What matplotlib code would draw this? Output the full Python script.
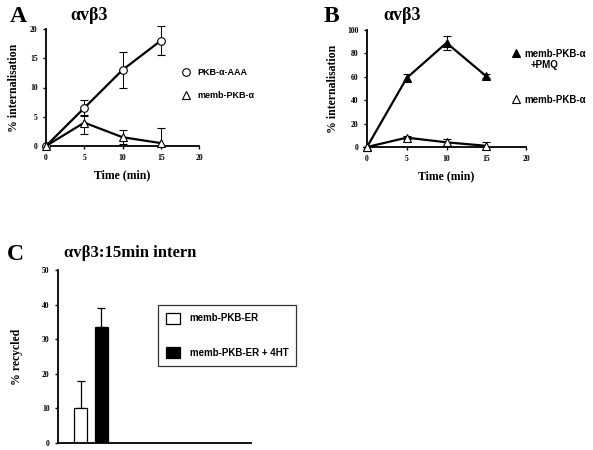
import matplotlib
matplotlib.use("Agg")
import matplotlib.pyplot as plt
from matplotlib.lines import Line2D
from matplotlib.patches import Patch

# ---- data ----
time_min = [0, 5, 10, 15]

# panel A
aaa_mean = [0, 6.5, 13, 18]
aaa_err = [0, 1.3, 3, 2.5]
memb_a_mean = [0, 4, 1.5, 0.5]
memb_a_lo = [0, 2, 1.2, 0.5]
memb_a_hi = [0, 1.3, 1.2, 2.5]

# panel B
pmq_mean = [0, 59, 89, 60.5]
pmq_err = [0, 3, 6, 1.5]
memb_b_mean = [0, 8, 4, 1]
memb_b_lo = [0, 1, 3, 1]
memb_b_hi = [0, 1, 3, 3]

# panel C
bar_labels = ["memb-PKB-ER", "memb-PKB-ER + 4HT"]
bar_values = [10, 33.5]
bar_err = [8, 5.5]
bar_colors = ["white", "black"]

W, H = 593, 450
serif = "Liberation Serif"
sans = "Liberation Sans"

fig = plt.figure(figsize=(W / 100, H / 100), dpi=100)


def px_axes(l, t, r, b):
    return fig.add_axes([l / W, 1 - b / H, (r - l) / W, (b - t) / H])


def style_axes(ax):
    for s in ["top", "right"]:
        ax.spines[s].set_visible(False)
    for s in ["left", "bottom"]:
        ax.spines[s].set_linewidth(1.3)
    ax.tick_params(length=2, width=1, pad=4, labelsize=5.5)
    for lab in ax.get_xticklabels() + ax.get_yticklabels():
        lab.set_fontfamily(serif)
        lab.set_fontweight("bold")


def line_series(ax, y, err, marker, face):
    ax.errorbar(time_min, y, yerr=err, color="black", lw=1.6, elinewidth=0.7,
                capsize=3, capthick=0.7, marker=marker, ms=5.5,
                mfc=face, mec="black", mew=0.8, clip_on=False, zorder=3)


label_kw = dict(fontfamily=serif, fontweight="bold", fontsize=8.5)
leg_prop = {"family": sans, "weight": "bold", "size": 7}

# ---- panel A ----
axA = px_axes(46, 29, 199, 146)
line_series(axA, aaa_mean, aaa_err, "o", "white")
line_series(axA, memb_a_mean, [memb_a_lo, memb_a_hi], "^", "white")
axA.set_xlim(0, 20)
axA.set_ylim(0, 20)
axA.set_xticks([0, 5, 10, 15, 20])
axA.set_yticks([0, 5, 10, 15, 20])
axA.set_xlabel("Time (min)", labelpad=5, **label_kw)
axA.set_ylabel("% internalisation", labelpad=7, **label_kw)
style_axes(axA)
hA = [Line2D([], [], ls="none", marker="o", ms=5.5, mfc="white", mec="black", mew=0.8),
      Line2D([], [], ls="none", marker="^", ms=5.5, mfc="white", mec="black", mew=0.8)]
fig.legend(hA, ["PKB-\u03b1-AAA", "memb-PKB-\u03b1"], loc="upper left",
           bbox_to_anchor=(173 / W, 1 - 60 / H), prop={"family": sans, "weight": "bold", "size": 6.5},
           frameon=False, handletextpad=0.8, handlelength=1.0, labelspacing=1.55)

# ---- panel B ----
axB = px_axes(367, 30, 526, 147)
line_series(axB, pmq_mean, pmq_err, "^", "black")
line_series(axB, memb_b_mean, [memb_b_lo, memb_b_hi], "^", "white")
axB.set_xlim(0, 20)
axB.set_ylim(0, 100)
axB.set_xticks([0, 5, 10, 15, 20])
axB.set_yticks([0, 20, 40, 60, 80, 100])
axB.set_xlabel("Time (min)", labelpad=5, **label_kw)
axB.set_ylabel("% internalisation", labelpad=6, **label_kw)
style_axes(axB)
hB = [Line2D([], [], ls="none", marker="^", ms=5.5, mfc="black", mec="black", mew=0.8),
      Line2D([], [], ls="none", marker="^", ms=5.5, mfc="white", mec="black", mew=0.8)]
fig.legend(hB, ["memb-PKB-\u03b1", "memb-PKB-\u03b1"], loc="upper left",
           bbox_to_anchor=(502 / W, 1 - 40 / H), prop=leg_prop, frameon=False,
           handletextpad=0.45, handlelength=1.0, labelspacing=3.7)
fig.text(531 / W, 1 - 65 / H, "+PMQ", fontfamily=sans, fontweight="bold",
         fontsize=7, va="center")

# ---- panel C ----
axC = px_axes(58, 270, 251, 443)
xpos = [1, 2]
axC.bar(xpos, bar_values, width=0.63, color=bar_colors, edgecolor="black", lw=0.9,
        zorder=2)
axC.errorbar(xpos, bar_values, yerr=[[0, 0], bar_err], fmt="none", ecolor="black",
             elinewidth=0.9, capsize=3, capthick=0.9, zorder=1)
axC.set_xlim(-0.1, 9.3)
axC.set_ylim(0, 50)
axC.set_xticks([])
axC.set_yticks([0, 10, 20, 30, 40, 50])
axC.set_ylabel("% recycled", labelpad=14, **label_kw)
style_axes(axC)
hC = [Patch(facecolor=c, edgecolor="black", lw=0.9) for c in bar_colors]
legC = fig.legend(hC, bar_labels, loc="upper left", bbox_to_anchor=(158 / W, 1 - 305 / H),
                  prop=leg_prop, frameon=True, fancybox=False, edgecolor="black",
                  handlelength=1.45, handleheight=1.35, handletextpad=1.0,
                  labelspacing=2.4, borderpad=0.8, borderaxespad=0)
legC.get_frame().set_linewidth(0.9)

# ---- panel letters and titles ----
fig.text(10 / W, 1 - 17 / H, "A", fontfamily=serif, fontweight="bold", fontsize=17, va="center")
fig.text(70 / W, 1 - 16 / H, "\u03b1v\u03b23", fontfamily=serif, fontweight="bold",
         fontsize=13, va="center")
fig.text(324 / W, 1 - 16 / H, "B", fontfamily=serif, fontweight="bold", fontsize=17, va="center")
fig.text(383 / W, 1 - 16 / H, "\u03b1v\u03b23", fontfamily=serif, fontweight="bold",
         fontsize=13, va="center")
fig.text(7 / W, 1 - 254 / H, "C", fontfamily=serif, fontweight="bold", fontsize=17, va="center")
fig.text(64 / W, 1 - 253 / H, "\u03b1v\u03b23:15min intern", fontfamily=serif,
         fontweight="bold", fontsize=12, va="center")

fig.savefig("out.png", dpi=100, facecolor="white")
